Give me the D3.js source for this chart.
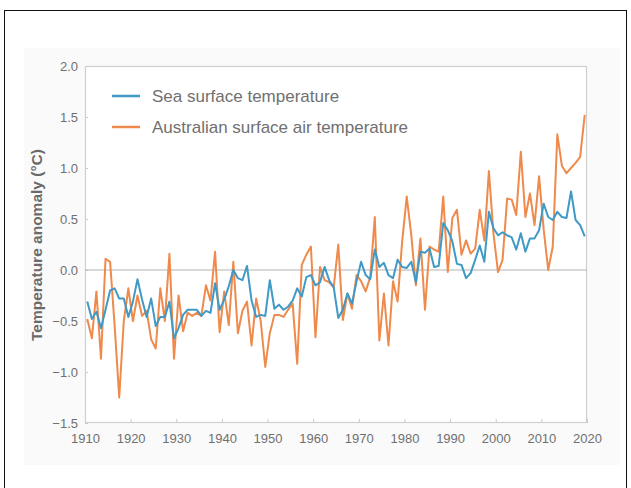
<!DOCTYPE html>
<html>
<head>
<meta charset="utf-8">
<script src="https://cdn.jsdelivr.net/npm/d3@7"></script>
<style>
  html, body { margin: 0; padding: 0; background: #fff; }
  svg { display: block; font-family: "Liberation Sans", Arial, sans-serif; }
</style>
</head>
<body>
<div id="chart"></div>
<script>
'use strict';

// ── Data: annual anomalies (°C), 1910–2019 ───────────────────────────────────
const firstYear = 1910;

const seaSurface = [
  -0.31, -0.48, -0.41, -0.57, -0.39, -0.20, -0.18, -0.28, -0.28, -0.46, // 1910s
  -0.31, -0.09, -0.29, -0.46, -0.28, -0.55, -0.46, -0.46, -0.31, -0.67, // 1920s
  -0.57, -0.44, -0.39, -0.39, -0.39, -0.45, -0.40, -0.42, -0.13, -0.39, // 1930s
  -0.29, -0.16,  0.00, -0.08, -0.10,  0.04, -0.30, -0.46, -0.44, -0.45, // 1940s
  -0.10, -0.38, -0.34, -0.39, -0.36, -0.30, -0.18, -0.26, -0.07, -0.05, // 1950s
  -0.15, -0.12,  0.03, -0.10, -0.17, -0.47, -0.39, -0.23, -0.33, -0.11, // 1960s
   0.08, -0.05, -0.09,  0.20,  0.03,  0.07, -0.05, -0.08,  0.10,  0.03, // 1970s
   0.02,  0.08, -0.12,  0.18,  0.17,  0.21,  0.03,  0.04,  0.46,  0.39, // 1980s
   0.28,  0.06,  0.05, -0.08, -0.03,  0.10,  0.24,  0.08,  0.57,  0.41, // 1990s
   0.34,  0.37,  0.34,  0.32,  0.20,  0.36,  0.18,  0.31,  0.31,  0.39, // 2000s
   0.65,  0.52,  0.49,  0.57,  0.52,  0.51,  0.77,  0.49,  0.44,  0.33  // 2010s
];

const surfaceAir = [
  -0.48, -0.67, -0.21, -0.87,  0.11,  0.08, -0.55, -1.25, -0.50, -0.18, // 1910s
  -0.50, -0.25, -0.45, -0.40, -0.68, -0.77, -0.18, -0.50,  0.16, -0.87, // 1920s
  -0.25, -0.60, -0.42, -0.45, -0.42, -0.45, -0.15, -0.30,  0.18, -0.61, // 1930s
  -0.21, -0.54,  0.08, -0.62, -0.40, -0.31, -0.74, -0.28, -0.50, -0.95, // 1940s
  -0.62, -0.44, -0.44, -0.46, -0.39, -0.33, -0.92,  0.05,  0.15,  0.23, // 1950s
  -0.66,  0.03, -0.10, -0.12, -0.17,  0.25, -0.49, -0.23, -0.38, -0.05, // 1960s
  -0.11, -0.21, -0.07,  0.52, -0.69, -0.23, -0.74, -0.11, -0.31,  0.28, // 1970s
   0.72,  0.34, -0.15,  0.31, -0.39,  0.23,  0.20,  0.18,  0.72, -0.02, // 1980s
   0.51,  0.59,  0.15,  0.29,  0.16,  0.21,  0.59,  0.29,  0.97,  0.36, // 1990s
  -0.02,  0.10,  0.70,  0.69,  0.54,  1.16,  0.52,  0.75,  0.44,  0.92, // 2000s
   0.40,  0.00,  0.23,  1.33,  1.02,  0.95,  1.00,  1.05,  1.11,  1.52  // 2010s
];

const xTicks = [1910, 1920, 1930, 1940, 1950, 1960, 1970, 1980, 1990, 2000, 2010, 2020];
const yTicks = [-1.5, -1.0, -0.5, 0.0, 0.5, 1.0, 1.5, 2.0];

const seriesNames = ['Sea surface temperature', 'Australian surface air temperature'];
const seriesColors = ['#3f9ac6', '#ef8a4c'];

// ── Layout ───────────────────────────────────────────────────────────────────
const W = 631, H = 488;
const plot = { left: 85, right: 587, top: 66, bottom: 423 };
const textGray = '#707070';

const svg = d3.select('#chart').append('svg')
  .attr('width', W)
  .attr('height', H);

// moldura externa da imagem
svg.append('rect')
  .attr('x', 4.5).attr('y', 10.5)
  .attr('width', 622).attr('height', H)
  .attr('fill', '#fff')
  .attr('stroke', '#111')
  .attr('stroke-width', 1);

// painel cinza claro
svg.append('rect')
  .attr('x', 24).attr('y', 48)
  .attr('width', 596).attr('height', 417)
  .attr('fill', '#fafafa');

const x = d3.scaleLinear().domain([1910, 2020]).range([plot.left, plot.right]);
const y = d3.scaleLinear().domain([-1.5, 2.0]).range([plot.bottom, plot.top]);

svg.append('rect')
  .attr('x', plot.left).attr('y', plot.top)
  .attr('width', plot.right - plot.left)
  .attr('height', plot.bottom - plot.top)
  .attr('fill', '#fff');

// ── Axes ─────────────────────────────────────────────────────────────────────
const xAxis = svg.append('g')
  .attr('transform', `translate(0,${plot.bottom})`)
  .call(d3.axisBottom(x).tickValues(xTicks).tickFormat(d3.format('d'))
    .tickSizeInner(-4).tickSizeOuter(0).tickPadding(9));

const yAxis = svg.append('g')
  .attr('transform', `translate(${plot.left},0)`)
  .call(d3.axisLeft(y).tickValues(yTicks).tickFormat(d3.format('.1f'))
    .tickSizeInner(-3).tickSizeOuter(0).tickPadding(7));

[xAxis, yAxis].forEach(g => {
  g.select('.domain').remove();
  g.selectAll('.tick line').attr('stroke', '#c8c8c8');
  g.selectAll('.tick text')
    .attr('fill', textGray)
    .style('font-size', '13px');
});
xAxis.selectAll('.tick text').attr('dy', '0.85em');

// moldura da área do gráfico
svg.append('rect')
  .attr('x', plot.left + 0.5).attr('y', plot.top + 0.5)
  .attr('width', plot.right - plot.left - 1)
  .attr('height', plot.bottom - plot.top - 1)
  .attr('fill', 'none')
  .attr('stroke', '#cfcfcf')
  .attr('stroke-width', 1.2);

// linha do zero
svg.append('line')
  .attr('x1', plot.left).attr('x2', plot.right)
  .attr('y1', y(0)).attr('y2', y(0))
  .attr('stroke', '#b4b4b4')
  .attr('stroke-width', 1.2);

svg.append('text')
  .attr('transform', 'translate(37,245) rotate(-90)')
  .attr('dy', '0.35em')
  .attr('text-anchor', 'middle')
  .attr('fill', '#6a6a6a')
  .style('font-size', '15.5px')
  .style('font-weight', 'bold')
  .text('Temperature anomaly (°C)');

// ── Lines ────────────────────────────────────────────────────────────────────
const line = d3.line()
  .x((d, i) => x(firstYear + i + 0.5))
  .y(d => y(d));

// ar primeiro, oceano por cima
[surfaceAir, seaSurface].forEach((values, k) => {
  svg.append('path')
    .datum(values)
    .attr('fill', 'none')
    .attr('stroke', seriesColors[1 - k])
    .attr('stroke-width', 2)
    .attr('stroke-linejoin', 'round')
    .attr('d', line);
});

// ── Legend ───────────────────────────────────────────────────────────────────
const legend = svg.append('g');
seriesNames.forEach((name, i) => {
  const ly = 96 + i * 31;
  legend.append('line')
    .attr('x1', 112).attr('x2', 140)
    .attr('y1', ly).attr('y2', ly)
    .attr('stroke', seriesColors[i])
    .attr('stroke-width', 2.5);
  legend.append('text')
    .attr('x', 152).attr('y', ly)
    .attr('dy', '0.35em')
    .attr('fill', textGray)
    .style('font-size', '17px')
    .text(name);
});
</script>
</body>
</html>
